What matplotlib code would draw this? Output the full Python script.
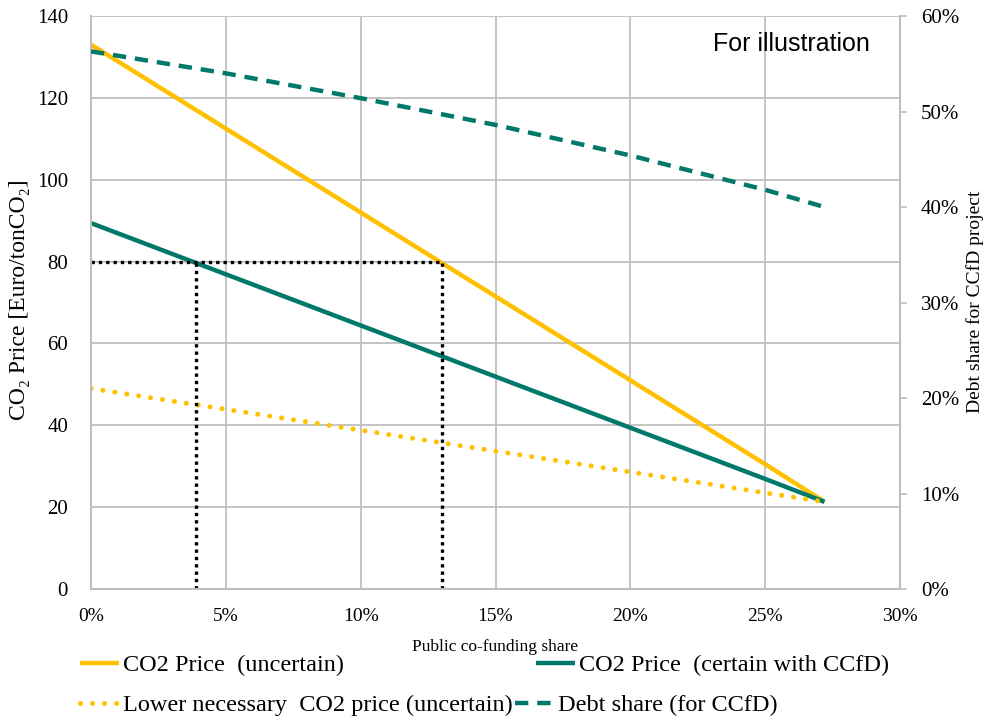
import matplotlib
matplotlib.use("Agg")
import matplotlib.pyplot as plt
from matplotlib.ticker import FuncFormatter

# public co-funding share (%)
share = [0, 5, 10, 15, 20, 25, 27.2]
price_uncertain = [133.0, 112.5, 92.0, 71.5, 51.0, 30.5, 21.3]
price_certain = [89.4, 76.9, 64.4, 51.9, 39.4, 26.9, 21.3]
price_lower = [49.0, 43.9, 38.8, 33.7, 28.6, 23.5, 21.3]
debt_share = [56.3, 54.0, 51.4, 48.6, 45.4, 41.8, 40.0]

# reference lines at 80 Euro/ton
ref_price = 80
ref_shares = [3.9, 13.0]

YELLOW = "#FFC000"
GREEN = "#00796B"
GRID = "#BFBFBF"
SERIF = ["Liberation Serif", "DejaVu Serif"]

plt.rcParams['font.family'] = SERIF

fig = plt.figure(figsize=(9.85, 7.19), dpi=100)
ax = fig.add_axes([0.0924, 0.1808, 0.8213, 0.7969])
ax2 = ax.twinx()

l1, = ax.plot(share, price_uncertain, color=YELLOW, lw=3.2, solid_capstyle='butt',
              label="CO2 Price  (uncertain)")
l2, = ax.plot(share, price_certain, color=GREEN, lw=3.2, solid_capstyle='butt',
              label="CO2 Price  (certain with CCfD)")
l3, = ax.plot(share, price_lower, color=YELLOW, lw=3.6, linestyle=(0, (0.01, 2.4)),
              dash_capstyle='round', label="Lower necessary  CO2 price (uncertain)")
l4, = ax2.plot(share, debt_share, color=GREEN, lw=3.2, linestyle=(0, (3, 2)),
               label="Debt share (for CCfD)")

# dotted guide lines
ax.plot([0, ref_shares[1]], [ref_price, ref_price], color="black", lw=2.4,
        linestyle=(0, (1, 1.2)))
for s in ref_shares:
    ax.plot([s, s], [0, ref_price], color="black", lw=2.4, linestyle=(0, (1, 1.2)))

ax.set_xlim(0, 30)
ax.set_ylim(0, 140)
ax2.set_ylim(0, 60)
ax.set_xticks(range(0, 31, 5))
ax.set_yticks(range(0, 141, 20))
ax2.set_yticks(range(0, 61, 10))
ax.xaxis.set_major_formatter(FuncFormatter(lambda v, p: f"{v:.0f}%"))
ax2.yaxis.set_major_formatter(FuncFormatter(lambda v, p: f"{v:.0f}%"))

ax.grid(True, color=GRID, lw=1.3)
ax.set_axisbelow(True)
for a in (ax, ax2):
    for sp in a.spines.values():
        sp.set_visible(False)
for sp in (ax2.spines['right'], ax.spines['left'], ax.spines['bottom']):
    sp.set_visible(True)
    sp.set_color(GRID)
    sp.set_linewidth(1.5)

ax.tick_params(axis='x', length=0, pad=14, labelsize=14)
ax.tick_params(axis='y', length=0, pad=16.5, labelsize=15)
ax2.tick_params(axis='y', length=5, width=1.2, color=GRID, pad=10, labelsize=15)

fig.text(20 / 985, 0.583, "CO₂ Price [Euro/tonCO₂]", fontsize=17, rotation=90,
         ha='center', va='center')
fig.text(975 / 985, 0.58, "Debt share for CCfD project", fontsize=14, rotation=90,
         ha='center', va='center')
ax.set_xlabel("Public co-funding share", fontsize=12.5, labelpad=10)

ax.text(0.963, 0.972, "For illustration", transform=ax.transAxes, ha='right', va='top',
        fontsize=18, family=["Liberation Sans", "DejaVu Sans"])

leg_kw = dict(loc='center left', ncol=2, frameon=False, fontsize=17.5, handlelength=1.6,
              handletextpad=0.17, borderpad=0, borderaxespad=0)
leg1 = fig.legend(handles=[l1, l2], bbox_to_anchor=(80 / 985, 1 - 665 / 719),
                  columnspacing=7.9, **leg_kw)
leg2 = fig.legend(handles=[l3, l4], bbox_to_anchor=(80 / 985, 1 - 705 / 719),
                  columnspacing=0.08, **leg_kw)

fig.savefig("out.png", dpi=100)
